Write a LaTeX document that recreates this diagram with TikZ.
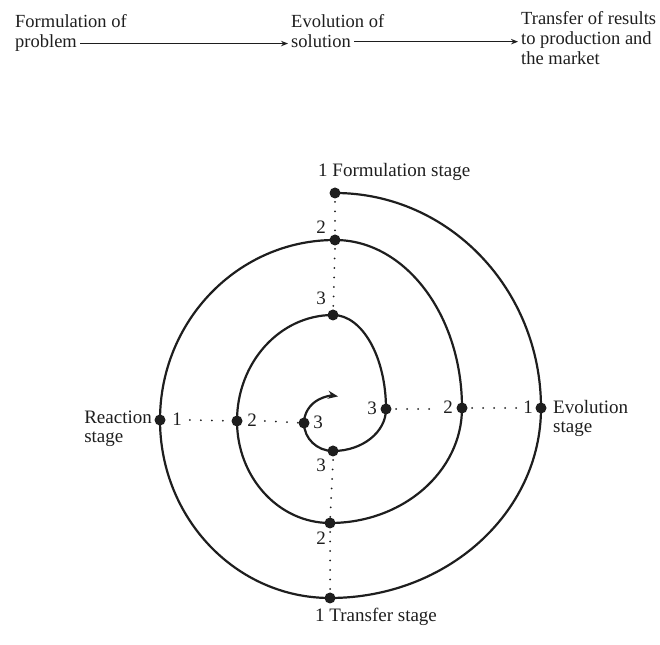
\documentclass[tikz,border=0pt]{standalone}
\usepackage{fontspec}
\setmainfont{Liberation Serif}
\usetikzlibrary{arrows.meta}
\definecolor{ink}{HTML}{1E1E1E}
\begin{document}
\begin{tikzpicture}[x=1pt,y=1pt,
  lbl/.style={inner sep=0pt, text=ink, font=\fontsize{19}{17}\selectfont},
  toplbl/.style={inner sep=0pt, text=ink, font=\fontsize{18.5}{20}\selectfont},
  dot/.style={circle, fill=ink, inner sep=0pt, minimum size=11pt},
  spiral/.style={draw=ink, line width=2.2pt},
  hguide/.style={draw=ink, line width=2pt, line cap=round, dash pattern=on 0pt off 11pt},
  vguide/.style={draw=ink, line width=2pt, line cap=round, dash pattern=on 0pt off 9.5pt},
  flow/.style={draw=ink, line width=1.4pt, shorten <=3pt, shorten >=3pt,
               -{Stealth[length=7pt,width=5.5pt]}}]
\useasboundingbox (0,0) rectangle (660,644);

% --- the three phases along the top ---
\node[toplbl, anchor=base west] (f1) at (15,616) {Formulation of};
\node[toplbl, anchor=base west] (f2) at (15,596) {problem};
\node[toplbl, anchor=base west] (e1) at (291,616) {Evolution of};
\node[toplbl, anchor=base west] (e2) at (291,596) {solution};
\node[toplbl, anchor=base west] (t1) at (521,619) {Transfer of results};
\node[toplbl, anchor=base west] (t2) at (521,599) {to production and};
\node[toplbl, anchor=base west] (t3) at (521,579) {the market};
\draw[flow] (f2.east) -- (e2.west |- f2.east);
\draw[flow] (e2.east) -- (t2.west |- e2.east);

% --- stage points of the spiral ---
\node[dot] (T1) at (335,451) {};
\node[dot] (R1) at (541,236) {};
\node[dot] (B1) at (330,46)  {};
\node[dot] (L1) at (160,224) {};
\node[dot] (T2) at (335,404) {};
\node[dot] (R2) at (462,236) {};
\node[dot] (B2) at (330,121) {};
\node[dot] (L2) at (237,223) {};
\node[dot] (T3) at (333,329) {};
\node[dot] (R3) at (386,235) {};
\node[dot] (B3) at (333,193) {};
\node[dot] (L3) at (304,221) {};

% --- the spiral, one quarter turn at a time ---
\draw[spiral]
  (T1.center) arc[start angle=90,  end angle=0,    x radius=206pt, y radius=215pt]
              arc[start angle=0,   end angle=-90,  x radius=211pt, y radius=190pt]
              arc[start angle=-90, end angle=-180, x radius=170pt, y radius=178pt]
              arc[start angle=180, end angle=90,   x radius=175pt, y radius=180pt]
              arc[start angle=90,  end angle=0,    x radius=127pt, y radius=168pt]
              arc[start angle=0,   end angle=-90,  x radius=132pt, y radius=115pt]
              arc[start angle=-90, end angle=-180, x radius=93pt,  y radius=102pt]
              arc[start angle=180, end angle=90,   x radius=96pt,  y radius=106pt]
              arc[start angle=90,  end angle=0,    x radius=53pt,  y radius=94pt]
              arc[start angle=0,   end angle=-90,  x radius=53pt,  y radius=42pt]
              arc[start angle=-90, end angle=-180, x radius=29pt,  y radius=28pt];
\draw[spiral, -{Stealth[length=10pt,width=8pt]}]
  (L3.center) arc[start angle=180, end angle=80, x radius=29pt, y radius=27pt];

% --- stage names ---
\node[lbl, anchor=base west] (fs) at (318,467) {1 Formulation stage};
\node[lbl, anchor=base west] (ts) at (315,22) {1 Transfer stage};
\node[lbl, anchor=base west] (ev1) at (553,230) {Evolution};
\node[lbl, anchor=base west] (ev2) at (553,211) {stage};
\node[lbl, anchor=base east] (re1) at (152,220) {Reaction};
\node[lbl, anchor=base west] (re2) at (re1.base west) [yshift=-19pt] {stage};

% --- turn numbers ---
\node[lbl, anchor=base] (nL1) at (177,218) {1};
\node[lbl, anchor=base] (nL2) at (252,217) {2};
\node[lbl, anchor=base] (nL3) at (318,215) {3};
\node[lbl, anchor=base] (nR3) at (372,229) {3};
\node[lbl, anchor=base] (nR2) at (448,230) {2};
\node[lbl, anchor=base] (nR1) at (528,230) {1};
\node[lbl, anchor=base] (nT2) at (321,410) {2};
\node[lbl, anchor=base] (nT3) at (321,339) {3};
\node[lbl, anchor=base] (nB3) at (321,172) {3};
\node[lbl, anchor=base] (nB2) at (321,99)  {2};

% --- dotted guides joining the stages ---
\draw[vguide] ([yshift=-9pt]T1.center) -- (T2);
\draw[vguide] ([yshift=-9pt]T2.center) -- (T3);
\draw[vguide] ([yshift=-9pt]B3.center) -- (B2);
\draw[vguide] ([yshift=-9pt]B2.center) -- (B1);
\draw[hguide] ([xshift=8pt]nL1.east |- L1) -- (L2);
\draw[hguide] ([xshift=8pt]nL2.east |- L2) -- (L3);
\draw[hguide] ([xshift=10pt]R3.center) -- ([xshift=-4pt]nR2.west |- R3);
\draw[hguide] ([xshift=10pt]R2.center) -- ([xshift=-4pt]nR1.west |- R2);
\end{tikzpicture}
\end{document}
